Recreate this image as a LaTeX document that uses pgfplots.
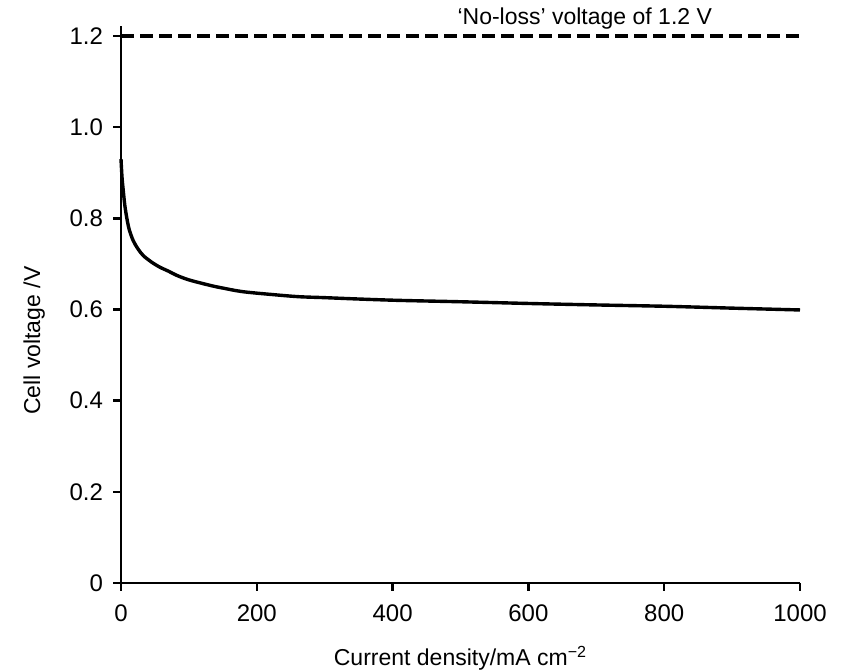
\documentclass[border=0pt]{standalone}
\usepackage{pgfplots}
\pgfplotsset{compat=1.18}
\usepackage{fontspec}
\setmainfont{Liberation Sans}

\begin{document}
\begin{tikzpicture}
\useasboundingbox (-60.5pt,-44.5pt) rectangle (361.5pt,291.5pt);
\begin{axis}[
    scale only axis,
    width=339.5pt,
    height=278.5pt,
    at={(0,0)}, anchor=south west,
    xmin=0, xmax=1000,
    ymin=0, ymax=1.222,
    axis x line*=bottom,
    axis y line*=left,
    axis line style={line width=1.2pt},
    tick style={line width=1.2pt, black},
    major tick length=4pt,
    tick align=outside,
    xtick={0,200,400,600,800,1000},
    xticklabels={0,200,400,600,800,1000},
    ytick={0,0.2,0.4,0.6,0.8,1.0,1.2},
    yticklabels={0,0.2,0.4,0.6,0.8,1.0,1.2},
    ticklabel style={font=\fontsize{12}{14}\selectfont},
    xticklabel style={yshift=-3.5pt},
    yticklabel style={xshift=-1.5pt},
    xlabel={Current density/mA cm\textsuperscript{−2}},
    ylabel={Cell voltage /V},
    label style={font=\fontsize{11.5}{13.5}\selectfont},
    xlabel style={at={(axis description cs:0.5,-0.135)}, anchor=center},
    ylabel style={at={(axis description cs:-0.128,0.435)}, anchor=center, rotate=0},
    clip=false,
]
\addplot[black, line width=1.6pt, dash pattern=on 6.5pt off 3pt] coordinates {
    (0,1.2) (1000,1.2)
};
\addplot[black, line width=1.7pt, smooth, tension=0.5] coordinates {
    (0,0.930) (1.5,0.890) (3.4,0.860) (5.5,0.830) (8.4,0.802) (12,0.776)
    (18,0.751) (25,0.733) (33,0.718) (45,0.704) (57,0.693) (70,0.684)
    (82,0.675) (100,0.665) (131,0.653) (150,0.647) (180,0.639) (229,0.632)
    (263,0.628) (300,0.626) (350,0.623) (410,0.620) (500,0.617) (607,0.613)
    (700,0.610) (804,0.607) (900,0.603) (1000,0.599)
};
\node[anchor=south, font=\fontsize{11.5}{13.5}\selectfont, inner sep=1pt]
    at (axis cs:683,1.21) {‘No-loss’ voltage of 1.2 V};
\end{axis}
\end{tikzpicture}
\end{document}
